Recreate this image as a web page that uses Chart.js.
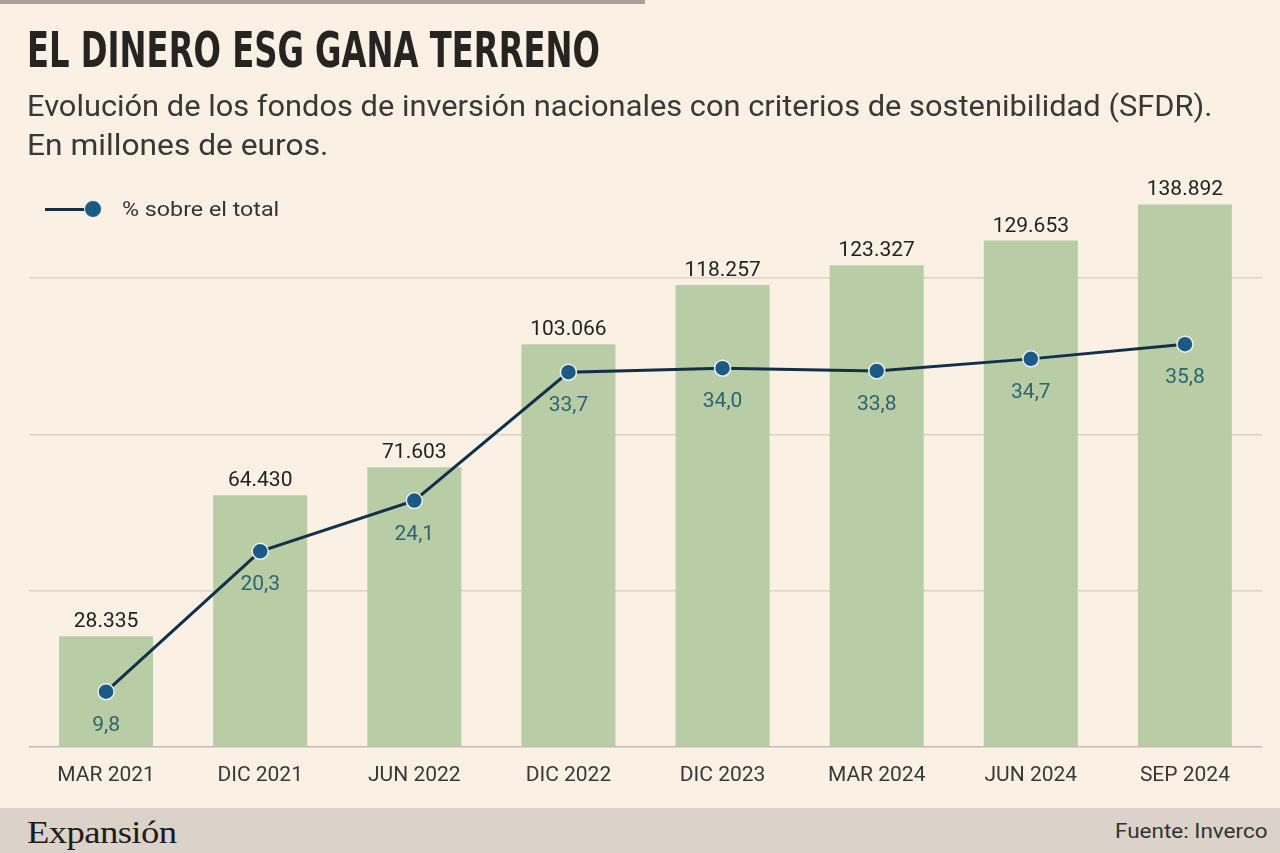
<!DOCTYPE html>
<html>
<head>
<meta charset="utf-8">
<script src="https://cdn.jsdelivr.net/npm/chart.js@4/dist/chart.umd.min.js"></script>
<style>
  html, body { margin: 0; padding: 0; }
  body { width: 1280px; height: 853px; background: #fbf0e4; position: relative; overflow: hidden; font-family: Roboto, "Liberation Sans", sans-serif; }
  #topbar { position: absolute; left: 0; top: 0; width: 645px; height: 4px; background: #a8a099; }
  .fit { position: absolute; white-space: nowrap; transform-origin: 0 0; line-height: 1; }
  #title { left: 27px; top: 25px; font-family: "Liberation Sans Narrow", "DejaVu Sans Condensed", sans-serif; font-weight: bold; font-size: 50px; color: #262321; }
  #sub1 { left: 27px; top: 92px; font-size: 29px; color: #3a3836; }
  #sub2 { left: 27px; top: 131px; font-size: 29px; color: #3a3836; }
  #legend { position: absolute; left: 45px; top: 196px; height: 26px; }
  #legline { position: absolute; left: 0; top: 12px; width: 48px; height: 3px; background: #12304a; }
  #legdot { position: absolute; left: 39px; top: 4px; width: 16px; height: 16px; border-radius: 50%; background: #1b5a85; border: 1.5px solid #e9f1f0; }
  #legtext { left: 77px; top: 3px; font-size: 20px; color: #333; }
  #chartwrap { position: absolute; left: 0; top: 0; width: 1280px; height: 808px; }
  #footer { position: absolute; left: 0; top: 808px; width: 1280px; height: 45px; background: #dbd2c9; }
  #brand { left: 27px; top: 9px; font-family: "Liberation Serif", "DejaVu Serif", serif; font-size: 31px; color: #1f1d1b; letter-spacing: -0.5px; }
  #source { top: 13px; font-size: 20px; color: #333; }
</style>
</head>
<body>
<div id="topbar"></div>
<div id="chartwrap"><canvas id="c" width="1280" height="808"></canvas></div>
<div id="title" class="fit">EL DINERO ESG GANA TERRENO</div>
<div id="sub1" class="fit">Evolución de los fondos de inversión nacionales con criterios de sostenibilidad (SFDR).</div>
<div id="sub2" class="fit">En millones de euros.</div>
<div id="legend"><div id="legline"></div><div id="legdot"></div><div id="legtext" class="fit">% sobre el total</div></div>
<div id="footer"><div id="brand" class="fit">Expansión</div><div id="source" class="fit">Fuente: Inverco</div></div>
<script>
// ---- Data ----
const categories = ['MAR 2021', 'DIC 2021', 'JUN 2022', 'DIC 2022', 'DIC 2023', 'MAR 2024', 'JUN 2024', 'SEP 2024'];
const fundsMillions = [28335, 64430, 71603, 103066, 118257, 123327, 129653, 138892];
const pctOfTotal = [9.8, 20.3, 24.1, 33.7, 34.0, 33.8, 34.7, 35.8];
const gridValues = [0, 40000, 80000, 120000];

// ---- fit text widths ----
function fitWidth(id, w) {
  const el = document.getElementById(id);
  const s = w / el.scrollWidth;
  el.style.transform = 'scaleX(' + s + ')';
}
fitWidth('title', 573);
fitWidth('sub1', 1185);
fitWidth('sub2', 301);
fitWidth('legtext', 157);
fitWidth('brand', 149);
(function () {
  const el = document.getElementById('source');
  const s = 153 / el.scrollWidth;
  el.style.transform = 'scaleX(' + s + ')';
  el.style.left = (1268 - 153) + 'px';
})();

function fmtThousands(v) {
  return String(v).replace(/\B(?=(\d{3})+(?!\d))/g, '.');
}
function fmtPct(v) {
  return v.toFixed(1).replace('.', ',');
}

const labelsPlugin = {
  id: 'valueLabels',
  afterDatasetsDraw(chart) {
    const ctx = chart.ctx;
    ctx.save();
    ctx.textAlign = 'center';
    ctx.textBaseline = 'alphabetic';
    const barMeta = chart.getDatasetMeta(1);
    ctx.font = '21px Roboto, "Liberation Sans", sans-serif';
    ctx.fillStyle = '#222';
    barMeta.data.forEach((bar, i) => {
      ctx.fillText(fmtThousands(fundsMillions[i]), bar.x, bar.y - 9);
    });
    const lineMeta = chart.getDatasetMeta(0);
    ctx.fillStyle = '#2c6470';
    lineMeta.data.forEach((pt, i) => {
      ctx.fillText(fmtPct(pctOfTotal[i]), pt.x, pt.y + 39);
    });
    ctx.restore();
  }
};

new Chart(document.getElementById('c'), {
  data: {
    labels: categories,
    datasets: [
      {
        type: 'line',
        data: pctOfTotal,
        yAxisID: 'yPct',
        order: 0,
        borderColor: '#12304a',
        borderWidth: 3,
        pointRadius: 8,
        pointHoverRadius: 8,
        pointBackgroundColor: '#1b5a85',
        pointBorderColor: '#e9f1f0',
        pointBorderWidth: 1.5,
        tension: 0
      },
      {
        type: 'bar',
        data: fundsMillions,
        yAxisID: 'y',
        order: 1,
        backgroundColor: '#b8cda5',
        barPercentage: 0.61,
        categoryPercentage: 1
      }
    ]
  },
  options: {
    responsive: false,
    animation: false,
    devicePixelRatio: 1,
    layout: { padding: { left: 29, right: 18, top: 122, bottom: 12 } },
    plugins: { legend: { display: false }, tooltip: { enabled: false } },
    scales: {
      x: {
        offset: true,
        grid: { display: false },
        border: { display: false },
        ticks: { color: '#3a3836', font: { size: 21, family: 'Roboto, "Liberation Sans", sans-serif' }, padding: 8, maxRotation: 0 }
      },
      y: {
        position: 'left',
        min: 0,
        max: 160000,
        afterBuildTicks(axis) { axis.ticks = gridValues.map(v => ({ value: v })); },
        grid: { color: ctx => ctx.tick && ctx.tick.value === 0 ? '#c4bbb1' : '#dbd1c6', lineWidth: 1.5, drawTicks: false },
        border: { display: false },
        ticks: { display: false }
      },
      yPct: {
        position: 'right',
        display: false,
        min: 5.68,
        max: 52.42
      }
    }
  },
  plugins: [labelsPlugin]
});
</script>
</body>
</html>
